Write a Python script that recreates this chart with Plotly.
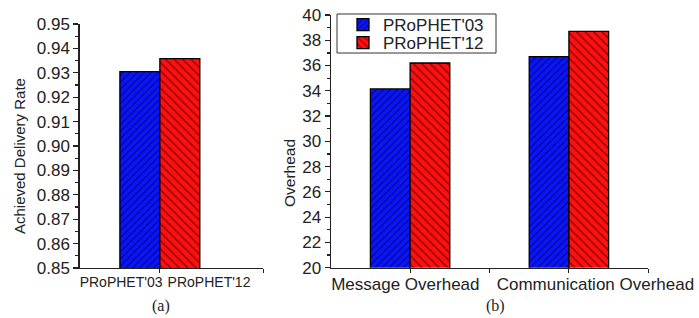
import plotly.graph_objects as go

# Data
left_series = ["PRoPHET'03", "PRoPHET'12"]
left_values = [0.9305, 0.9358]

right_categories = ["Message Overhead", "Communication Overhead"]
prophet03_overhead = [34.15, 36.7]
prophet12_overhead = [36.2, 38.7]

W, H = 699, 318
BLUE = "#0a14ff"
RED = "#ff1010"
AX = "#222222"
SANS = "Liberation Sans, Arial, sans-serif"
SERIF = "Liberation Serif, Times New Roman, serif"

def px(x):
    return x / W

def py(y):
    return 1 - y / H

fig = go.Figure()

pat03 = dict(shape="/", fgcolor="#000000", bgcolor=BLUE, size=5, solidity=0.25)
pat12 = dict(shape="\\", fgcolor="#000000", bgcolor=RED, size=6, solidity=0.22)

# Left panel (a)
fig.add_trace(go.Bar(x=[1], y=[left_values[0]], name=left_series[0], offset=-1, width=1,
                     marker=dict(color=BLUE, pattern=pat03, line=dict(color="#000", width=1.3)),
                     xaxis="x", yaxis="y", showlegend=False))
fig.add_trace(go.Bar(x=[1], y=[left_values[1]], name=left_series[1], offset=0, width=1,
                     marker=dict(color=RED, pattern=pat12, line=dict(color="#000", width=1.3)),
                     xaxis="x", yaxis="y", showlegend=False))

# Right panel (b)
fig.add_trace(go.Bar(x=[1, 2], y=prophet03_overhead, name="PRoPHET'03", offset=-0.25, width=0.25,
                     marker=dict(color=BLUE, pattern=pat03, line=dict(color="#000", width=1.3)),
                     xaxis="x2", yaxis="y2", legend="legend"))
fig.add_trace(go.Bar(x=[1, 2], y=prophet12_overhead, name="PRoPHET'12", offset=0, width=0.25,
                     marker=dict(color=RED, pattern=pat12, line=dict(color="#000", width=1.3)),
                     xaxis="x2", yaxis="y2", legend="legend2"))

common_axis = dict(showline=True, linecolor=AX, linewidth=1.2, showgrid=False, zeroline=False,
                   tickcolor=AX, ticks="outside", fixedrange=True, automargin=False, tickangle=0)

legend_common = dict(xanchor="left", yanchor="middle", borderwidth=0,
                     bgcolor="rgba(0,0,0,0)",
                     font=dict(size=17, family=SANS, color="#222"), itemwidth=30)

fig.update_layout(
    width=W, height=H,
    margin=dict(l=0, r=0, t=0, b=0, autoexpand=False),
    paper_bgcolor="white", plot_bgcolor="white",
    barmode="overlay",
    font=dict(family=SANS, color="#222"),
    xaxis=dict(**common_axis, domain=[px(79.5), px(263)], range=[-1.01, 3.58], anchor="y",
               tickmode="array", tickvals=[0.03, 2.23], ticktext=left_series,
               ticklen=1, tickwidth=1,
               tickfont=dict(size=14, family=SANS, color="#222")),
    yaxis=dict(**common_axis, domain=[py(268), py(24)], range=[0.85, 0.95], anchor="x",
               dtick=0.01, tickformat=".2f", ticklen=5, tickwidth=1.2,
               minor=dict(dtick=0.005, ticks="outside", ticklen=3, tickcolor=AX),
               tickfont=dict(size=17, family=SANS, color="#222")),
    xaxis2=dict(**common_axis, domain=[px(330.7), px(648.3)], range=[0.5, 2.5], anchor="y2",
                tickmode="array", tickvals=[0.97, 2.167], ticktext=right_categories,
                ticklen=1, tickwidth=1,
                tickfont=dict(size=17, family=SANS, color="#222")),
    yaxis2=dict(**common_axis, domain=[py(267.7), py(15)], range=[20, 40], anchor="x2",
                dtick=2, ticklen=5, tickwidth=1.2,
                minor=dict(dtick=1, ticks="outside", ticklen=3, tickcolor=AX),
                tickfont=dict(size=17, family=SANS, color="#222")),
    legend=dict(**legend_common, x=px(343), y=py(25)),
    legend2=dict(**legend_common, x=px(343), y=py(43)),
)

# hide major tick marks on x axes (labels only) and draw the real ticks as minor ticks
fig.update_xaxes(tickcolor="rgba(0,0,0,0)")
fig.layout.xaxis.minor = dict(tickmode="array", tickvals=[1, 3.58], ticks="outside", ticklen=4, tickcolor=AX)
fig.layout.xaxis2.minor = dict(tickmode="array", tickvals=[1, 1.5, 2, 2.5], ticks="outside", ticklen=4, tickcolor=AX)

# Legend frame
fig.add_shape(type="rect", xref="paper", yref="paper",
              x0=px(337), x1=px(496), y0=py(53), y1=py(14),
              line=dict(color="#333", width=1), fillcolor="rgba(0,0,0,0)", layer="above")

# Axis titles and captions
ann = dict(xref="paper", yref="paper", showarrow=False, xanchor="center", yanchor="middle")
fig.add_annotation(text="Achieved Delivery Rate", x=px(19), y=py(156), textangle=-90,
                   font=dict(size=15, family=SANS, color="#222"), **ann)
fig.add_annotation(text="Overhead", x=px(289), y=py(173), textangle=-90,
                   font=dict(size=15.5, family=SANS, color="#222"), **ann)
fig.add_annotation(text="(a)", x=px(161), y=py(306),
                   font=dict(size=16, family=SERIF, color="#222"), **ann)
fig.add_annotation(text="(b)", x=px(495), y=py(306),
                   font=dict(size=16, family=SERIF, color="#222"), **ann)

fig.write_html("out.html", config={"displayModeBar": False, "staticPlot": True},
               post_script="document.body.style.margin='0';document.body.style.overflow='hidden';")
